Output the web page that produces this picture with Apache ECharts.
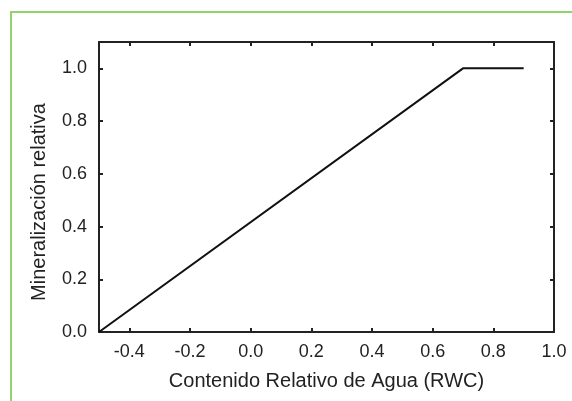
<!DOCTYPE html>
<html>
<head>
<meta charset="utf-8">
<script src="https://cdn.jsdelivr.net/npm/echarts@6/dist/echarts.min.js"></script>
<style>html,body{margin:0;padding:0;background:#fff}#c{width:572px;height:401px}</style>
</head>
<body>
<div id="c"></div>
<script>
const rwc = [-0.5, 0.7, 0.9];
const mineralizacion = [0, 1.0, 1.0];
const xTickLabels = [-0.4, -0.2, 0.0, 0.2, 0.4, 0.6, 0.8, 1.0];
const xTicks = [-0.4, -0.2, 0.0, 0.2, 0.4, 0.6, 0.8];
const yTickLabels = [0.0, 0.2, 0.4, 0.6, 0.8, 1.0];
const yTicks = [0.2, 0.4, 0.6, 0.8, 1.0];
const xTitle = 'Contenido Relativo de Agua (RWC)';
const yTitle = 'Mineralización relativa';

const font = 'Liberation Sans, Arial, sans-serif';
const axLine = {show: true, onZero: false, lineStyle: {color: '#222', width: 2}};
const chart = echarts.init(document.getElementById('c'));
chart.setOption({
  backgroundColor: '#fff',
  animation: false,
  graphic: [{type: 'rect', shape: {x: 11, y: 12, width: 700, height: 600}, style: {fill: 'none', stroke: '#92d36e', lineWidth: 2}}],
  grid: {left: 99, right: 18, top: 42, bottom: 69},
  xAxis: [{
    type: 'value', min: -0.5, max: 1.0, position: 'bottom',
    axisLine: axLine, splitLine: {show: false},
    axisTick: {show: true, inside: true, length: 4, customValues: xTicks, lineStyle: {color: '#222', width: 2}},
    axisLabel: {customValues: xTickLabels, formatter: v => v.toFixed(1), color: '#222', fontSize: 18, fontFamily: font, margin: 11},
    name: xTitle, nameLocation: 'middle', nameGap: 39,
    nameTextStyle: {color: '#222', fontSize: 20, fontFamily: font}
  }, {
    type: 'value', min: -0.5, max: 1.0, position: 'top',
    axisLine: axLine, splitLine: {show: false},
    axisTick: {show: true, inside: true, length: 4, customValues: xTicks, lineStyle: {color: '#222', width: 2}},
    axisLabel: {show: false}
  }],
  yAxis: [{
    type: 'value', min: 0, max: 1.1, position: 'left',
    axisLine: axLine, splitLine: {show: false},
    axisTick: {show: true, inside: true, length: 4, customValues: yTicks, lineStyle: {color: '#222', width: 2}},
    axisLabel: {customValues: yTickLabels, formatter: v => v.toFixed(1), color: '#222', fontSize: 18, fontFamily: font, margin: 12},
    name: yTitle, nameLocation: 'middle', nameGap: 50, nameRotate: 90,
    nameTextStyle: {color: '#222', fontSize: 20, fontFamily: font, padding: [0, 30, 0, 0]}
  }, {
    type: 'value', min: 0, max: 1.1, position: 'right',
    axisLine: axLine, splitLine: {show: false},
    axisTick: {show: true, inside: true, length: 4, customValues: yTicks, lineStyle: {color: '#222', width: 2}},
    axisLabel: {show: false}
  }],
  series: [{
    type: 'line', xAxisIndex: 0, yAxisIndex: 0,
    data: rwc.map((x, i) => [x, mineralizacion[i]]),
    showSymbol: false, symbol: 'none',
    lineStyle: {color: '#111', width: 2}
  }]
});
</script>
</body>
</html>
